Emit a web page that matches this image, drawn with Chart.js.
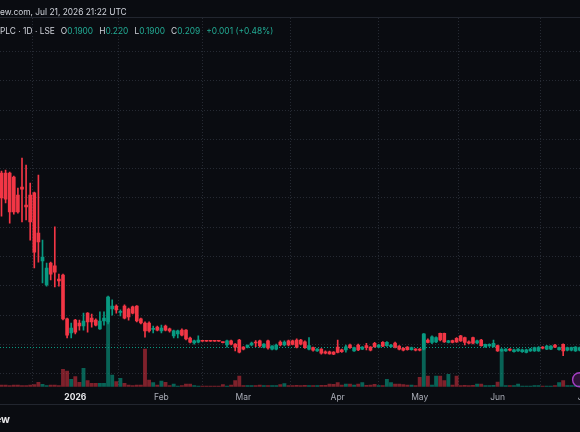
<!DOCTYPE html>
<html><head><meta charset="utf-8">
<script src="https://cdn.jsdelivr.net/npm/chart.js@4.4.1/dist/chart.umd.min.js"></script>
<style>
html,body{margin:0;padding:0;background:#0a0c11;}
body{position:relative;width:580px;height:432px;overflow:hidden;font-family:Inter,"Noto Sans",sans-serif;}
#wrap{position:absolute;left:0;top:0;width:600px;height:432px;}
.hr{position:absolute;left:0;width:580px;height:1px;background:#22262f;}
.txt{position:absolute;white-space:nowrap;color:#d1d4dc;font-size:8.4px;line-height:10px;}
.k{color:#d1d4dc;margin-left:6px;}
.v{color:#22ab94;}
#logo{position:absolute;right:calc(100% - 10px);top:414px;font-size:10.5px;font-weight:700;color:#e8e8ea;white-space:nowrap;line-height:12px;}
</style></head>
<body>
<div id="wrap"><canvas id="c" width="600" height="432"></canvas></div>
<div class="hr" style="top:17px"></div>
<div class="hr" style="top:404px"></div>
<div class="txt" style="left:0;top:6.5px">ew.com, Jul 21, 2026 21:22 UTC</div>
<div class="txt" style="left:0;top:25.5px"><span>PLC · 1D · LSE</span><span class="k">O</span><span class="v">0.1900</span><span class="k">H</span><span class="v">0.220</span><span class="k">L</span><span class="v">0.1900</span><span class="k">C</span><span class="v">0.209</span><span class="v" style="margin-left:6px">+0.001 (+0.48%)</span></div>
<div id="logo">TradingView</div>
<script>
// ---- data (one entry per daily bar, oldest first) ----
const opens = [
0.804,0.804,0.804,0.790,0.729,0.756,0.695,0.729,0.736,0.599,
0.504,0.422,0.497,0.487,0.442,0.456,0.306,0.258,0.302,0.292,
0.282,0.326,0.309,0.302,0.272,0.299,0.296,0.340,0.350,0.328,
0.350,0.340,0.347,0.350,0.306,0.292,0.292,0.270,0.278,0.265,
0.282,0.272,0.248,0.255,0.268,0.268,0.241,0.224,0.227,0.231,
0.231,0.231,0.231,0.231,0.226,0.217,0.231,0.220,0.234,0.210,
0.210,0.217,0.227,0.231,0.210,0.231,0.203,0.203,0.227,0.217,
0.231,0.231,0.234,0.234,0.228,0.203,0.208,0.197,0.203,0.194,
0.194,0.193,0.210,0.201,0.200,0.217,0.197,0.217,0.203,0.215,
0.210,0.223,0.210,0.226,0.215,0.211,0.224,0.213,0.206,0.210,
0.201,0.203,0.203,0.203,0.234,0.226,0.228,0.257,0.257,0.226,
0.232,0.240,0.248,0.242,0.228,0.242,0.224,0.234,0.211,0.214,
0.211,0.215,0.197,0.197,0.203,0.194,0.197,0.194,0.192,0.197,
0.197,0.197,0.210,0.203,0.203,0.217,0.201,0.219,0.199,0.199,
0.197,0.199];
const highs = [
0.811,0.814,0.807,0.794,0.753,0.855,0.831,0.770,0.739,0.797,
0.575,0.497,0.500,0.620,0.459,0.459,0.309,0.292,0.305,0.302,
0.326,0.328,0.323,0.306,0.330,0.330,0.384,0.371,0.354,0.337,
0.354,0.343,0.350,0.352,0.309,0.296,0.296,0.282,0.282,0.285,
0.285,0.275,0.268,0.268,0.272,0.270,0.244,0.234,0.248,0.231,
0.231,0.231,0.231,0.231,0.227,0.234,0.234,0.222,0.236,0.212,
0.217,0.227,0.232,0.234,0.222,0.234,0.214,0.220,0.231,0.231,
0.234,0.234,0.238,0.236,0.231,0.242,0.210,0.205,0.205,0.197,
0.196,0.195,0.234,0.203,0.217,0.220,0.210,0.220,0.212,0.223,
0.212,0.226,0.219,0.229,0.229,0.219,0.227,0.215,0.208,0.212,
0.210,0.205,0.205,0.256,0.238,0.248,0.245,0.258,0.258,0.233,
0.234,0.242,0.250,0.244,0.231,0.244,0.234,0.236,0.220,0.221,
0.234,0.217,0.205,0.205,0.205,0.203,0.205,0.203,0.203,0.206,
0.210,0.212,0.212,0.216,0.215,0.219,0.210,0.221,0.210,0.210,
0.212,0.210];
const lows = [
0.657,0.702,0.633,0.664,0.667,0.637,0.644,0.575,0.480,0.500,
0.429,0.418,0.439,0.415,0.418,0.303,0.241,0.241,0.255,0.268,
0.268,0.261,0.278,0.282,0.270,0.285,0.289,0.319,0.326,0.316,
0.306,0.302,0.323,0.296,0.289,0.244,0.261,0.258,0.265,0.258,
0.265,0.261,0.241,0.241,0.248,0.234,0.224,0.220,0.224,0.229,
0.229,0.229,0.229,0.229,0.224,0.210,0.217,0.197,0.190,0.200,
0.207,0.214,0.211,0.210,0.207,0.203,0.200,0.200,0.214,0.214,
0.214,0.217,0.207,0.217,0.205,0.200,0.196,0.195,0.186,0.187,
0.186,0.184,0.190,0.192,0.193,0.205,0.195,0.198,0.201,0.200,
0.197,0.209,0.208,0.211,0.212,0.209,0.207,0.200,0.197,0.199,
0.199,0.197,0.197,0.200,0.224,0.222,0.225,0.231,0.226,0.224,
0.224,0.226,0.229,0.217,0.221,0.221,0.222,0.213,0.209,0.212,
0.210,0.195,0.195,0.195,0.197,0.193,0.195,0.192,0.190,0.195,
0.195,0.195,0.204,0.201,0.201,0.208,0.199,0.181,0.197,0.197,
0.195,0.197];
const closes = [
0.719,0.715,0.671,0.671,0.671,0.749,0.688,0.637,0.534,0.569,
0.517,0.480,0.459,0.466,0.436,0.306,0.251,0.275,0.261,0.282,
0.299,0.296,0.296,0.285,0.299,0.309,0.381,0.350,0.337,0.332,
0.309,0.313,0.326,0.299,0.292,0.265,0.265,0.274,0.268,0.275,
0.268,0.265,0.265,0.265,0.251,0.238,0.227,0.231,0.234,0.230,
0.230,0.230,0.230,0.230,0.225,0.231,0.220,0.210,0.193,0.203,
0.217,0.224,0.224,0.214,0.220,0.207,0.214,0.217,0.217,0.227,
0.217,0.219,0.210,0.220,0.208,0.215,0.199,0.203,0.189,0.189,
0.187,0.186,0.192,0.194,0.211,0.208,0.208,0.200,0.210,0.208,
0.199,0.211,0.217,0.213,0.226,0.217,0.210,0.203,0.199,0.201,
0.208,0.199,0.199,0.255,0.226,0.245,0.242,0.234,0.228,0.231,
0.226,0.228,0.231,0.226,0.223,0.223,0.231,0.215,0.219,0.219,
0.223,0.197,0.203,0.203,0.199,0.201,0.203,0.201,0.201,0.203,
0.208,0.208,0.206,0.213,0.213,0.210,0.208,0.197,0.208,0.208,
0.210,0.208];
// volume, thousands of shares
const volumes = [
30,30,20,30,34,20,20,30,40,88,
48,20,30,34,20,348,314,148,200,88,
368,120,68,68,68,68,1790,234,100,168,
68,34,20,34,34,754,134,80,34,114,
88,20,54,14,20,54,54,20,14,14,
14,14,14,14,40,14,34,120,214,20,
20,20,20,34,20,20,20,20,40,60,
20,20,26,20,26,20,20,20,26,26,
54,48,80,34,54,54,34,54,80,26,
34,48,20,20,148,80,54,54,40,34,
34,20,188,1040,214,30,214,214,120,248,
30,214,20,26,20,26,54,54,20,20,
26,94,720,20,20,20,54,14,14,14,
20,20,14,14,14,20,80,120,20,20,
20,20];
// time-axis labels: bar index of the first bar of each month
const monthBar    = [18, 39, 59, 82, 102, 121, 142];
const monthLabels = ['2026','Feb','Mar','Apr','May','Jun','Jul'];
const priceGrid = [0.119,0.219,0.319,0.419,0.519,0.619,0.719,0.819,0.919,1.019,1.119,1.219];
const lastPrice = 0.209;
const eventBar = 141;

const UP = '#089981', DN = '#f23645';
const idx = closes.map((_, i) => i);
const isUp = idx.map(i => closes[i] >= opens[i]);
const candleColor = idx.map(i => isUp[i] ? UP : DN);
const volColor = idx.map(i => isUp[i] ? 'rgba(8,153,129,0.62)' : 'rgba(242,54,69,0.5)');

const priceLine = {
  id: 'priceLine',
  beforeDatasetsDraw(chart) {
    const {ctx, chartArea: a, scales: {y}} = chart;
    const py = Math.round(y.getPixelForValue(lastPrice)) + 0.5;
    ctx.save();
    ctx.strokeStyle = UP; ctx.lineWidth = 1; ctx.setLineDash([1, 2]);
    ctx.beginPath(); ctx.moveTo(a.left, py); ctx.lineTo(a.right, py); ctx.stroke();
    ctx.restore();
  }
};
const marker = {
  id: 'marker',
  afterDatasetsDraw(chart) {
    const {ctx, chartArea: a, scales: {x}} = chart;
    const cx = x.getPixelForValue(eventBar), cy = a.bottom - 7;
    ctx.save();
    ctx.beginPath(); ctx.arc(cx, cy, 7, 0, Math.PI * 2);
    ctx.fillStyle = 'rgba(156,39,176,0.25)'; ctx.fill();
    ctx.lineWidth = 1.4; ctx.strokeStyle = '#a63fc4'; ctx.stroke();
    ctx.restore();
  }
};

const gridCol = '#262a33';
new Chart(document.getElementById('c'), {
  type: 'bar',
  data: {
    datasets: [
      {label: 'Volume', data: idx.map(i => ({x: i, y: volumes[i]})), yAxisID: 'yv',
       grouped: false, barThickness: 3.2, backgroundColor: volColor, order: 3},
      {label: 'Wick', data: idx.map(i => ({x: i, y: [lows[i], highs[i]]})), yAxisID: 'y',
       grouped: false, barThickness: 1, backgroundColor: candleColor, order: 2},
      {label: 'Body', data: idx.map(i => ({x: i, y: [opens[i], closes[i]]})), yAxisID: 'y',
       grouped: false, barThickness: 3, minBarLength: 1, backgroundColor: candleColor, order: 1}
    ]
  },
  options: {
    responsive: false, animation: false,
    layout: {padding: {top: 18, left: 0, right: 0, bottom: 0}},
    plugins: {legend: {display: false}, tooltip: {enabled: false}},
    scales: {
      x: {
        type: 'linear', min: -0.366, max: 145.98, offset: false,
        grid: {color: gridCol, drawTicks: false},
        border: {display: false, dash: [1, 2]},
        afterBuildTicks: s => { s.ticks = monthBar.map(v => ({value: v})); },
        afterFit: s => { s.height = 45.3; },
        ticks: {
          autoSkip: false, maxRotation: 0, padding: 6,
          color: c => c.index === 0 ? '#e6e7ea' : '#a9acb6',
          font: c => ({family: 'Inter', size: 8.5, weight: c.index === 0 ? '700' : '400'}),
          callback: v => { const k = monthBar.indexOf(v); return k >= 0 ? monthLabels[k] : ''; }
        }
      },
      y: {
        position: 'right', min: 0.07474, max: 1.33312,
        grid: {color: gridCol, drawTicks: false},
        border: {display: false, dash: [1, 2]},
        ticks: {display: false},
        afterBuildTicks: s => { s.ticks = priceGrid.map(v => ({value: v})); },
        afterFit: s => { s.width = 0; }
      },
      yv: {display: false, min: 0, max: 7374}
    }
  },
  plugins: [priceLine, marker]
});
</script>
</body></html>
